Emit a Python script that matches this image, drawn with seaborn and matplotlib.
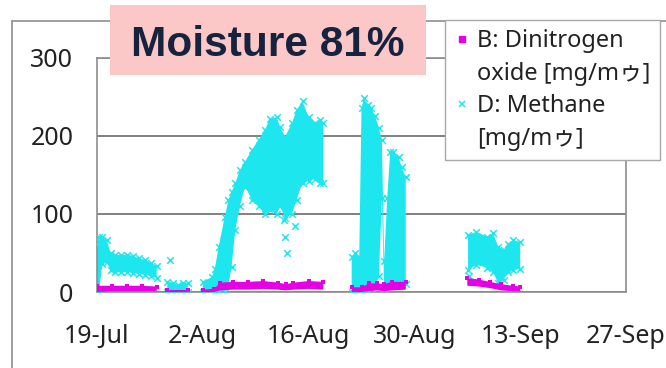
import numpy as np
import pandas as pd
import matplotlib
matplotlib.use("Agg")
import matplotlib.pyplot as plt
from matplotlib.lines import Line2D
from matplotlib.patches import Rectangle
import seaborn as sns

START = pd.Timestamp("2010-07-19")
NAN = np.nan

# Methane readings: days after 19 Jul, lower / upper edge of the reading cloud [mg/m3]
ch4_day = [0.0, 0.3, 0.7, 1.3, 1.8, 2.4, 3.2, 4.0, 4.8, 5.6, 6.4, 7.2, 7.9,
           8.6,
           9.3, 10.0, 10.7, 11.4, 12.0,
           13.0,
           14.0, 15.2, 15.6, 16.1, 16.9, 17.4, 17.8, 18.3, 18.9, 19.6, 20.5, 21.4,
           22.2, 22.9, 23.8, 24.2, 24.9, 25.8, 26.4, 27.2, 28.0, 28.9, 29.5, 29.95,
           31.0,
           33.7, 34.2, 34.7, 35.0, 35.3, 35.8, 36.3, 36.8, 37.3, 37.7, 38.0, 38.4,
           38.8, 39.2, 39.9, 40.3, 40.85,
           45.0,
           49.1, 50.2, 51.6, 52.4, 53.1, 53.8, 54.4, 55.1, 56.0]
ch4_low = [0, 2, 36, 38, 28, 25, 25, 26, 24, 23, 22, 20, 18,
           NAN,
           0, 0, 0, 0, 0,
           NAN,
           0, 0, 0, 0, 0, 10, 32, 79, 110, 135, 118, 110,
           100, 105, 100, 110, 95, 100, 118, 140, 142, 145, 140, 140,
           NAN,
           0, 0, 3, 0, 0, 0, 5, 8, 20, 120, 5, 8,
           8, 10, 8, 10, 10,
           NAN,
           28, 35, 31, 26, 11, 15, 25, 28, 30]
ch4_high = [62, 70, 70, 66, 50, 48, 47, 48, 46, 43, 41, 37, 33,
            NAN,
            13, 12, 9, 12, 11,
            NAN,
            13, 19, 30, 58, 96, 118, 128, 139, 156, 167, 182, 195,
            207, 222, 224, 211, 199, 216, 233, 244, 224, 216, 220, 216,
            NAN,
            45, 50, 45, 235, 248, 240, 236, 225, 210, 195, 40, 120,
            179, 179, 173, 160, 147,
            NAN,
            73, 77, 71, 75, 58, 54, 62, 66, 64]

# Isolated methane readings outside the main cloud
ch4_spot_day = [9.7, 24.7, 24.9, 25.1, 26.2, 49.2]
ch4_spot_val = [41, 92, 71, 50, 84, 20]

# Dinitrogen oxide readings: days after 19 Jul, lower / upper edge [mg/m3]
n2o_day = [0.0, 2.0, 4.0, 6.0, 7.9,
           8.6,
           9.3, 12.0,
           13.0,
           14.0, 15.5, 16.3, 18.0, 20.0, 22.0, 24.0, 25.0, 26.0, 28.0, 29.95,
           31.0,
           33.7, 35.0, 36.0, 37.0, 38.0, 39.0, 40.85,
           45.0,
           49.0, 50.5, 52.0, 53.5, 55.0, 56.0]
n2o_low = [0, 1, 1, 1, 1,
           NAN,
           0, 0,
           NAN,
           0, 0, 2, 3, 3, 4, 3, 2, 3, 4, 3,
           NAN,
           0, 0, 1, 2, 1, 2, 3,
           NAN,
           8, 7, 5, 2, 1, 1]
n2o_high = [8, 8, 8, 8, 7,
            NAN,
            3, 3,
            NAN,
            3, 4, 12, 13, 13, 14, 12, 10, 12, 14, 13,
            NAN,
            6, 6, 11, 11, 10, 13, 13,
            NAN,
            18, 16, 13, 10, 8, 7]

tick_days = [0, 14, 28, 42, 56, 70]
tick_labels = ["19-Jul", "2-Aug", "16-Aug", "30-Aug", "13-Sep", "27-Sep"]
y_ticks = [0, 100, 200, 300]

label_n2o = ["B: Dinitrogen", "oxide [mg/mゥ]"]
label_ch4 = ["D: Methane", "[mg/mゥ]"]
title = "Moisture 81%"

CYAN = "#1ee6ef"
MAGENTA = "#e600e6"
GRID = "#767676"
FRAME = "#8e8e8e"
TEXT = "#222222"


def to_dates(days):
    return START + pd.to_timedelta(pd.Series(days, dtype=float), unit="D")


def band_frame(days, low, high):
    df = pd.DataFrame({"day": days, "low": low, "high": high})
    df["date"] = to_dates(df["day"])
    return df


def edge_points(df, cols=("low", "high")):
    pts = df.melt(id_vars=["date"], value_vars=list(cols), value_name="value")
    return pts.dropna(subset=["value"])


ch4 = band_frame(ch4_day, ch4_low, ch4_high)
n2o = band_frame(n2o_day, n2o_low, n2o_high)
ch4_pts = pd.concat([edge_points(ch4),
                     pd.DataFrame({"date": to_dates(ch4_spot_day), "value": ch4_spot_val})],
                    ignore_index=True)
n2o_pts = edge_points(n2o, ("high",))

sns.set_theme(style="white")
plt.rcParams["font.family"] = ["Noto Sans", "Noto Sans CJK JP", "DejaVu Sans"]

W, H = 666, 368
fig = plt.figure(figsize=(W / 100, H / 100), dpi=100)
fig.patch.set_facecolor("white")
ax = fig.add_axes([97 / W, 1 - 292 / H, 529 / W, (292 - 57.7) / H])

# Methane cloud
ax.fill_between(ch4["date"], ch4["low"], ch4["high"], color=CYAN, lw=0, zorder=2)
sns.scatterplot(data=ch4_pts, x="date", y="value", marker="x", color=CYAN,
                s=22, linewidth=1.1, ax=ax, zorder=3, legend=False)

# Dinitrogen oxide cloud
ax.fill_between(n2o["date"], n2o["low"], n2o["high"], color=MAGENTA, lw=0, zorder=4)
sns.scatterplot(data=n2o_pts, x="date", y="value", marker="s", color=MAGENTA,
                s=9, linewidth=0, ax=ax, zorder=5, legend=False)

ax.set_xlim(START, START + pd.Timedelta(days=70))
ax.set_ylim(0, 300)
ax.set_xticks(list(to_dates(tick_days)))
ax.set_xticklabels(tick_labels)
ax.set_yticks(y_ticks)
ax.set_xlabel("")
ax.set_ylabel("")

ax.yaxis.grid(True, color=GRID, lw=1.3)
ax.xaxis.grid(False)
ax.set_axisbelow(True)
for sp in ax.spines.values():
    sp.set_visible(True)
    sp.set_color(FRAME)
    sp.set_linewidth(1.2)

ax.tick_params(axis="y", length=0, pad=17, labelsize=18, labelcolor=TEXT)
ax.tick_params(axis="x", length=5, width=1, color="#b0b0b0", direction="out",
               pad=18, labelsize=18, labelcolor=TEXT)

# Outer chart frame
fig.add_artist(Line2D([12 / W, 12 / W], [0, 1 - 21 / H], transform=fig.transFigure,
                      color=FRAME, lw=1.2))
fig.add_artist(Line2D([12 / W, 1], [1 - 21 / H, 1 - 21 / H], transform=fig.transFigure,
                      color=FRAME, lw=1.2))

# Title badge
fig.add_artist(Rectangle((110 / W, 1 - 75 / H), 316 / W, 70 / H, transform=fig.transFigure,
                         facecolor="#fcc8c7", edgecolor="none", zorder=5))
fig.text(268 / W, 1 - 56 / H, title, ha="center", va="baseline", fontsize=30.5,
         fontweight="bold", family=["Liberation Sans", "DejaVu Sans"], color="#15233f",
         zorder=6)

# Legend
blank = Line2D([], [], linestyle="", marker="")
handles = [Line2D([], [], linestyle="", marker="s", markersize=4.5, color=MAGENTA),
           blank,
           Line2D([], [], linestyle="", marker="x", markersize=5, markeredgewidth=1.1,
                  color=CYAN),
           blank]
labels = label_n2o + label_ch4
leg = fig.legend(handles, labels, loc="upper left", bbox_to_anchor=(445 / W, 1 - 20 / H),
                 bbox_transform=fig.transFigure, frameon=True, fancybox=False,
                 edgecolor="#a8a8a8", framealpha=1, borderaxespad=0, fontsize=17,
                 handlelength=0.6, handletextpad=0.35, borderpad=0.4, labelspacing=0.36)
leg.get_frame().set_linewidth(1.0)
leg.set_zorder(7)
for t in leg.get_texts():
    t.set_color(TEXT)

fig.savefig("out.png", dpi=100, facecolor="white")
